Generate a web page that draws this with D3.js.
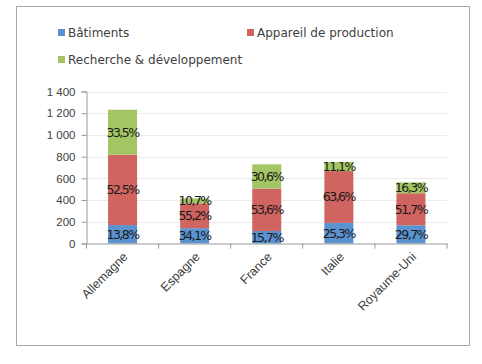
<!DOCTYPE html>
<meta charset="utf-8">
<head>
    <script src="https://d3js.org/d3.v7.min.js"></script>
    <style>
    body { margin: 0; background: white; }
    svg { font-family: "DejaVu Sans", sans-serif; }
    </style>
</head>
<body>
    <svg id="svgid" width="482" height="364"></svg>
    <script>
        // data
        var countries = ["Allemagne", "Espagne", "France", "Italie", "Royaume-Uni"];
        var seriesNames = ["Bâtiments", "Appareil de production", "Recherche & développement"];
        var batiments  = [170, 141, 115, 190, 168];
        var appareil   = [648, 229, 391, 477, 295];
        var recherche  = [414, 45, 223, 83, 100];
        var labBat  = ["13,8%", "34,1%", "15,7%", "25,3%", "29,7%"];
        var labApp  = ["52,5%", "55,2%", "53,6%", "63,6%", "51,7%"];
        var labRech = ["33,5%", "10,7%", "30,6%", "11,1%", "16,3%"];
        var yTicks = [0, 200, 400, 600, 800, 1000, 1200, 1400];
        var colors = ["#5b93d1", "#d06461", "#a3c563"];

        var svg = d3.select("#svgid");

        // outer frame
        svg.append("rect")
            .attr("x", 16.5).attr("y", 6.5)
            .attr("width", 453).attr("height", 339)
            .attr("fill", "white").attr("stroke", "#a6a6a6").attr("stroke-width", 1);

        var x = d3.scaleBand().domain(countries).range([86.5, 447]).paddingInner(0.6).paddingOuter(0.3);
        var y = d3.scaleLinear().domain([0, 1400]).range([243.5, 91.5]);

        // gridlines
        svg.append("g").selectAll("line").data(yTicks.slice(1)).join("line")
            .attr("x1", 86.5).attr("x2", 447)
            .attr("y1", d => Math.round(y(d)) + 0.5).attr("y2", d => Math.round(y(d)) + 0.5)
            .attr("stroke", "#ececec");

        // stacked bars
        var rows = countries.map((c, i) => ({
            country: c, bat: batiments[i], app: appareil[i], rech: recherche[i],
            labs: [labBat[i], labApp[i], labRech[i]]
        }));
        var stack = d3.stack().keys(["bat", "app", "rech"])(rows);

        var bw = 29;
        stack.forEach(function (layer, k) {
            svg.append("g").selectAll("rect").data(layer).join("rect")
                .attr("x", d => x(d.data.country) + x.bandwidth() / 2 - bw / 2)
                .attr("width", bw)
                .attr("y", d => y(d[1]))
                .attr("height", d => y(d[0]) - y(d[1]))
                .attr("fill", colors[k]);
        });
        stack.forEach(function (layer, k) {
            svg.append("g").selectAll("text").data(layer).join("text")
                .attr("x", d => x(d.data.country) + x.bandwidth() / 2)
                .attr("y", d => (y(d[0]) + y(d[1])) / 2 + 4.5)
                .attr("text-anchor", "middle")
                .attr("font-size", 12.5)
                .attr("letter-spacing", -1.5)
                .attr("fill", "#1a1a1a")
                .text(d => d.data.labs[k]);
        });

        // y axis
        var yAxis = d3.axisLeft(y).tickValues(yTicks).tickSize(5).tickPadding(6)
            .tickFormat(d => d3.format(",")(d).replace(",", " "));
        var gy = svg.append("g").attr("transform", "translate(86.5,0)").call(yAxis);
        gy.select(".domain").attr("stroke", "#999");
        gy.selectAll(".tick line").attr("stroke", "#999");
        gy.selectAll("text").attr("font-size", 11.5).attr("fill", "#404040");

        // x axis
        var xAxis = d3.axisBottom(x).tickSize(0).tickFormat("");
        var gx = svg.append("g").attr("transform", "translate(0,243.5)").call(xAxis);
        gx.select(".domain").attr("stroke", "#999");
        var bounds = [86.5].concat(countries.map(c => x(c) + x.bandwidth() / 2 + x.step() / 2));
        gx.selectAll(".sep").data(bounds).join("line")
            .attr("x1", d => d).attr("x2", d => d).attr("y1", 0).attr("y2", 5)
            .attr("stroke", "#999");
        gx.selectAll(".lab").data(countries).join("text")
            .attr("transform", d => "translate(" + (x(d) + x.bandwidth() / 2 + 6) + ",14) rotate(-45)")
            .attr("text-anchor", "end")
            .attr("font-size", 12.5)
            .attr("fill", "#404040")
            .text(d => d);

        // legend
        var legPos = [[58, 37], [247, 37], [58, 64]];
        var leg = svg.append("g").selectAll("g").data(seriesNames).join("g")
            .attr("transform", (d, i) => "translate(" + legPos[i][0] + "," + legPos[i][1] + ")");
        leg.append("rect").attr("x", 0).attr("y", -8).attr("width", 7).attr("height", 7)
            .attr("fill", (d, i) => colors[i]);
        leg.append("text").attr("x", 10).attr("y", 0)
            .attr("font-size", 12).attr("fill", "#404040")
            .text(d => d);
    </script>
</body>
